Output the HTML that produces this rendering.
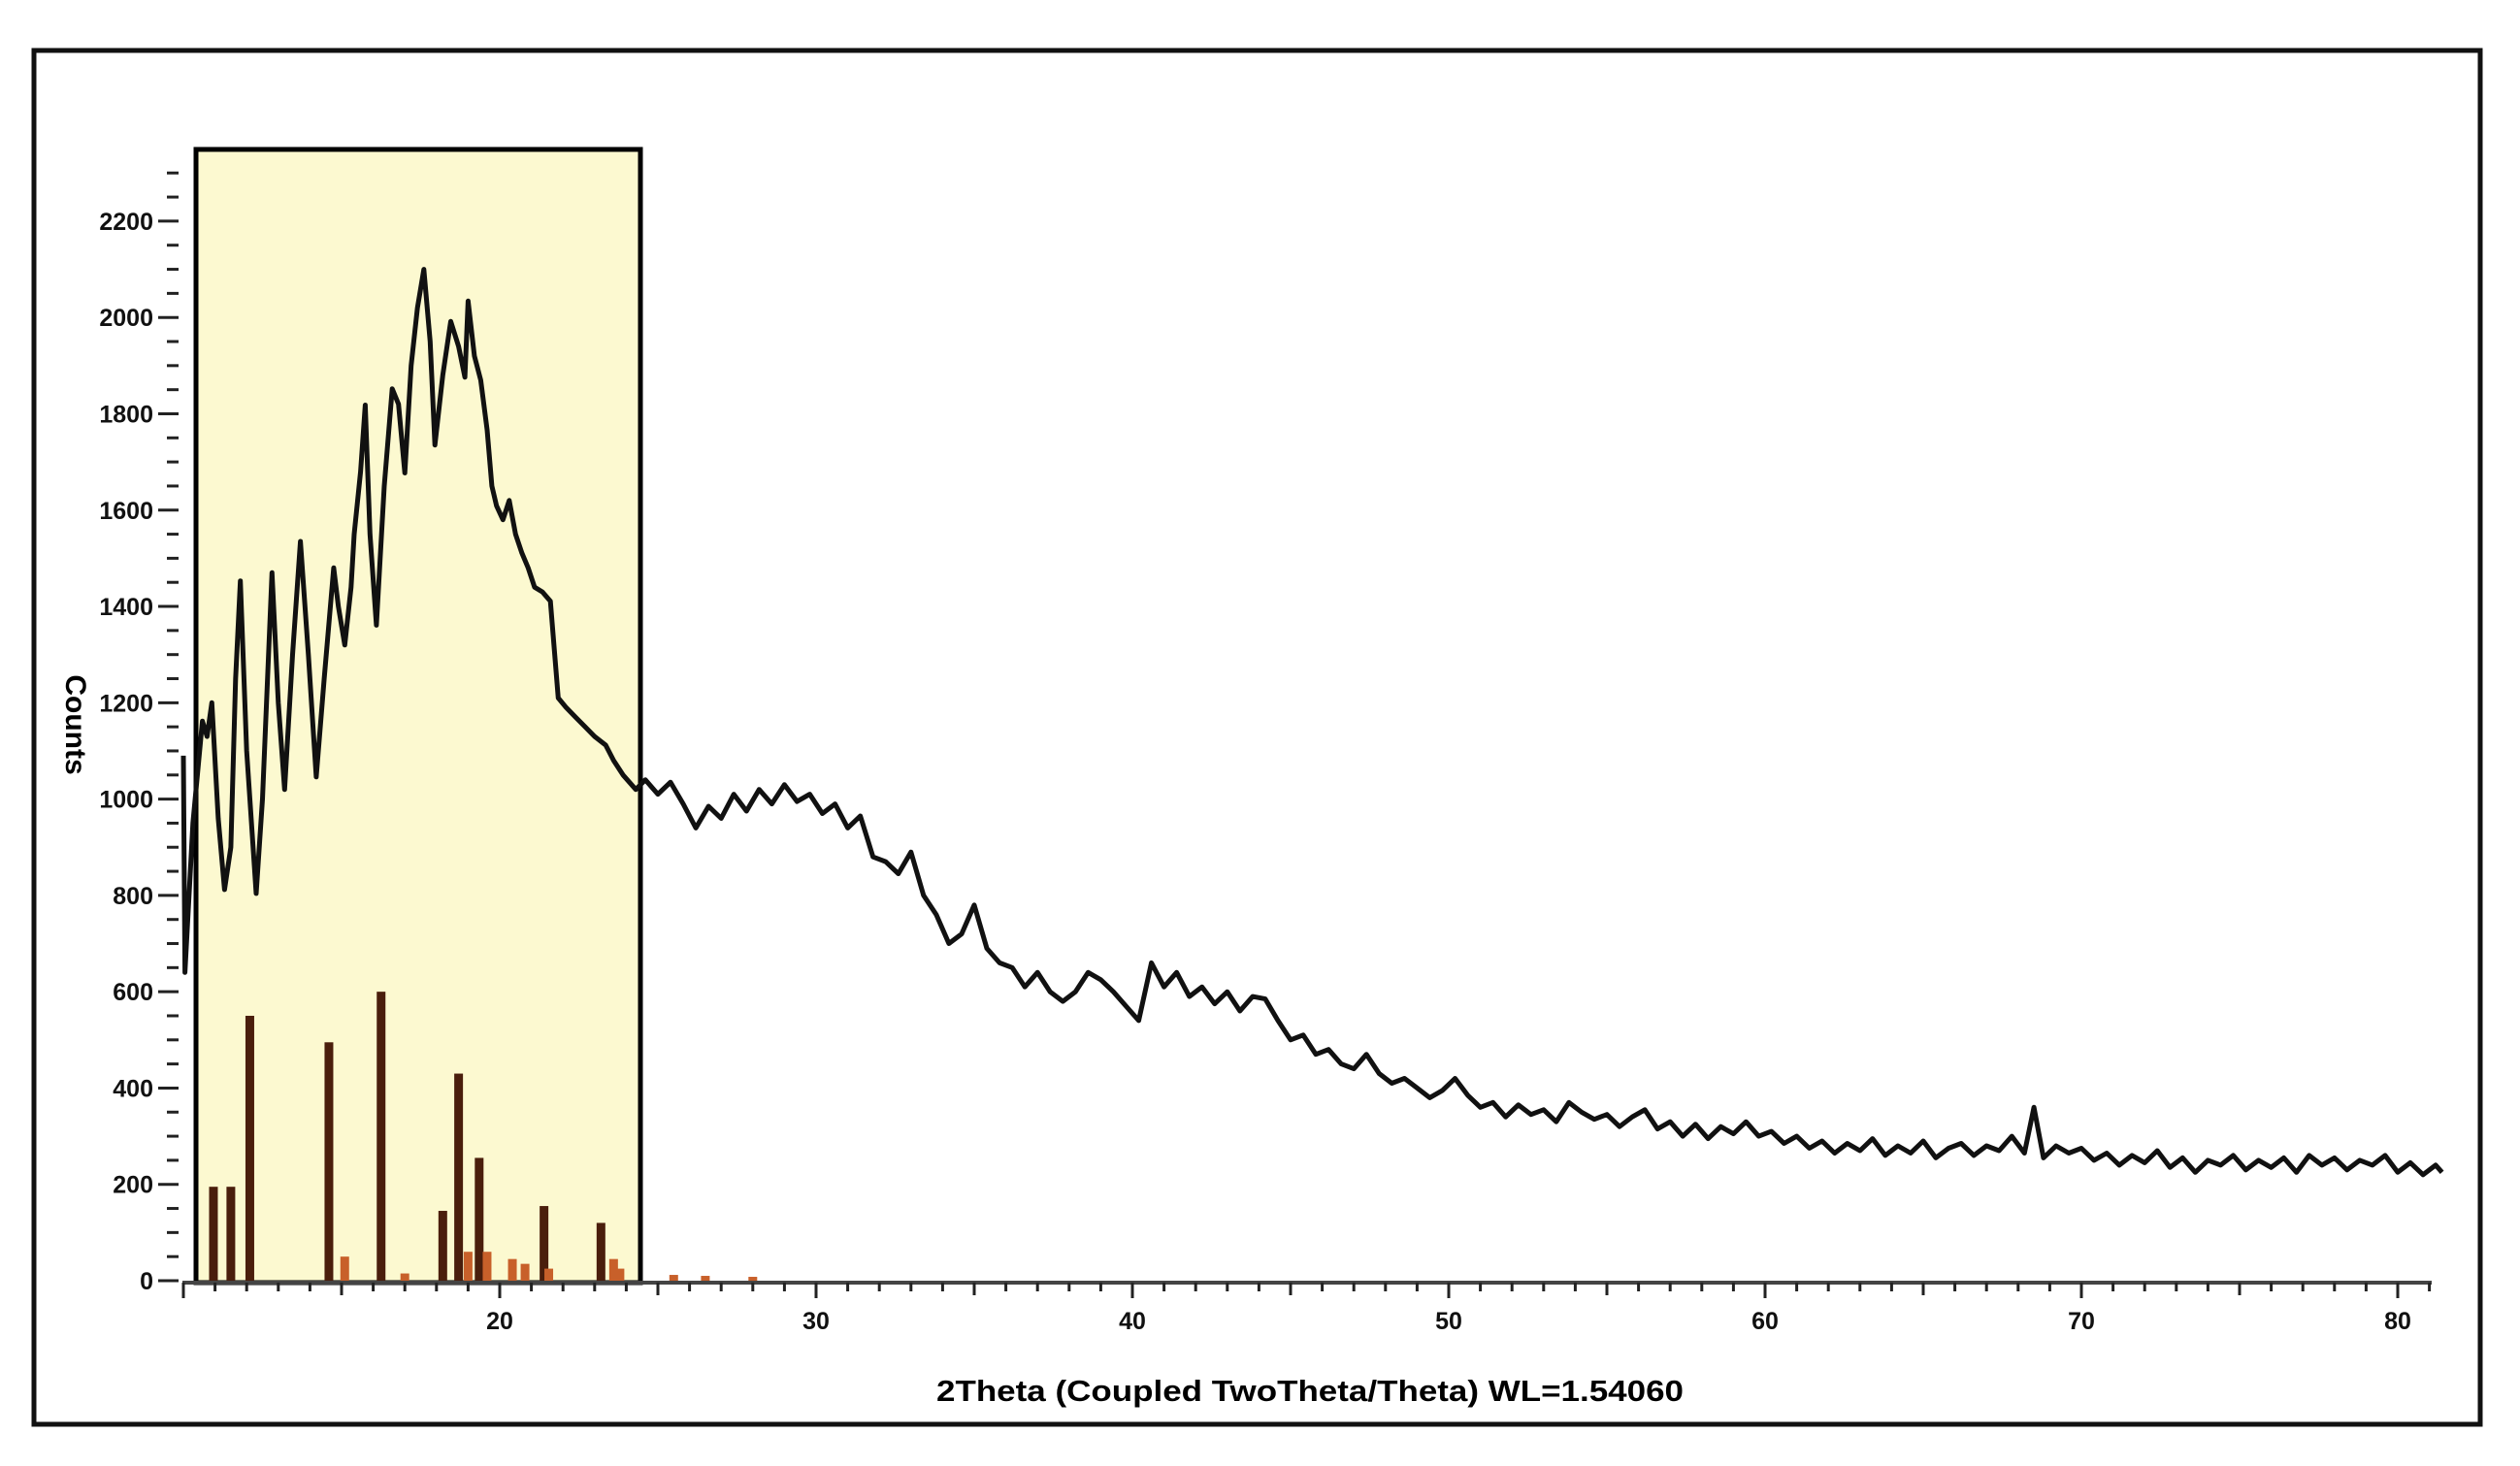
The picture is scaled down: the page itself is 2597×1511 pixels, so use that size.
<!DOCTYPE html>
<html><head><meta charset="utf-8"><style>
html,body{margin:0;padding:0;background:#fff;}
svg{display:block;font-family:"Liberation Sans",sans-serif;font-weight:bold;}
</style></head><body>
<svg id="chart" width="2597" height="1511" viewBox="0 0 2597 1511">
  <rect x="35" y="52" width="2521" height="1416" fill="none" stroke="#111" stroke-width="5"/>
  <rect x="202" y="154" width="458" height="1168" fill="#fcf9d0" stroke="#000" stroke-width="5"/>
  <g id="yaxis"></g>
  <g id="xaxis"></g>
  <g id="sticks"></g>
  <path id="trace" fill="none" stroke="#111" stroke-width="5" stroke-linejoin="round"/>
  <text x="68" y="747" font-size="30" text-anchor="middle" transform="rotate(90 68 747)">Counts</text>
  <text x="1350" y="1444" font-size="31" text-anchor="middle" textLength="770" lengthAdjust="spacingAndGlyphs">2Theta (Coupled TwoTheta/Theta) WL=1.54060</text>
</svg>
<script>
const angles = [10.0,10.05,10.3,10.6,10.75,10.9,11.1,11.3,11.5,11.65,11.8,12.0,12.3,12.5,12.8,13.0,13.2,13.45,13.7,13.95,14.2,14.45,14.75,14.9,15.1,15.3,15.4,15.6,15.75,15.9,16.1,16.35,16.6,16.8,17.0,17.2,17.4,17.6,17.8,17.95,18.2,18.45,18.7,18.9,19.0,19.2,19.4,19.6,19.75,19.9,20.1,20.3,20.5,20.7,20.9,21.1,21.35,21.6,21.85,22.1,22.4,22.7,23.0,23.35,23.6,23.9,24.3,
24.6,25.0,25.4,25.8,26.2,26.6,27.0,27.4,27.8,28.2,28.6,29.0,29.4,29.8,30.2,30.6,31.0,31.4,31.8,32.2,32.6,33.0,33.4,33.8,34.2,34.6,35.0,35.4,35.8,36.2,36.6,37.0,37.4,37.8,38.2,38.6,39.0,39.4,39.8,40.2,40.6,41.0,41.4,41.8,42.2,42.6,43.0,43.4,43.8,44.2,44.6,45.0,45.4,45.8,46.2,46.6,47.0,47.4,47.8,48.2,48.6,49.0,49.4,49.8,50.2,50.6,51.0,51.4,51.8,52.2,52.6,53.0,53.4,53.8,54.2,54.6,55.0,55.4,55.8,56.2,56.6,57.0,57.4,57.8,58.2,58.6,59.0,59.4,59.8,60.2,60.6,61.0,61.4,61.8,62.2,62.6,63.0,63.4,63.8,64.2,64.6,65.0,65.4,65.8,66.2,66.6,67.0,67.4,67.8,68.2,68.5,68.8,69.2,69.6,70.0,70.4,70.8,71.2,71.6,72.0,72.4,72.8,73.2,73.6,74.0,74.4,74.8,75.2,75.6,76.0,76.4,76.8,77.2,77.6,78.0,78.4,78.8,79.2,79.6,80.0,80.4,80.8,81.2,81.4];
const counts = [1090,640,950,1162,1130,1200,960,812,900,1250,1453,1100,804,1000,1470,1200,1020,1300,1535,1300,1046,1250,1480,1400,1320,1440,1550,1680,1818,1550,1361,1650,1852,1820,1677,1900,2020,2100,1950,1735,1880,1992,1940,1876,2034,1920,1870,1767,1650,1609,1580,1620,1550,1511,1480,1440,1430,1411,1210,1190,1170,1150,1130,1112,1080,1050,1020,
1040,1010,1035,990,940,985,960,1010,975,1020,990,1030,995,1010,970,990,940,965,880,870,845,890,800,760,700,720,780,690,660,650,610,640,600,580,600,640,625,600,570,540,660,610,640,590,610,575,600,560,590,585,540,500,510,470,480,450,440,470,430,410,420,400,380,395,420,385,360,370,340,365,345,355,330,370,350,335,345,320,340,355,315,330,300,325,295,320,305,330,300,310,285,300,275,290,265,285,270,295,260,280,265,290,255,275,285,260,280,270,300,265,360,255,280,265,275,250,265,240,260,245,270,235,255,225,250,240,260,230,250,235,255,225,260,240,255,230,250,240,260,225,245,220,240,225];
const stickAngles = [10.95,11.5,12.1,14.6,15.1,16.25,17.0,18.2,18.7,19.0,19.35,19.6,20.4,20.8,21.4,21.55,23.2,23.6,23.8,25.5,26.5,28.0];
const stickHeights = [195,195,550,495,50,600,15,145,430,60,255,60,45,35,155,25,120,45,25,12,10,8];
const yTicks = [0,200,400,600,800,1000,1200,1400,1600,1800,2000,2200];
const xTicks = [20,30,40,50,60,70,80];

const NS = "http://www.w3.org/2000/svg";
function X(v){ return 515 + (v-20)*32.6; }
function Y(v){ return 1320 - v*0.4964; }
function mk(tag, attrs, parent){ const e=document.createElementNS(NS,tag); for(const k in attrs) e.setAttribute(k,attrs[k]); parent.appendChild(e); return e; }

const ya = document.getElementById('yaxis');
for(let v=0; v<=2300; v+=50){
  const major = v%200===0;
  const t = mk('line',{x1: major?163:172, x2:184, y1:Y(v), y2:Y(v), stroke:'#222','stroke-width':3}, ya);
  
  
}
yTicks.forEach(v=>{
  const t = mk('text',{x:158,y:Y(v)+9,'font-size':25,'text-anchor':'end',fill:'#111'}, ya);
  t.textContent = v;
  
  
});

const xa = document.getElementById('xaxis');
const axl = mk('line',{x1:188,x2:2506,y1:1322,y2:1322,stroke:'#444','stroke-width':4}, xa);


for(let v=10; v<=81; v++){
  const len = v%10===0 ? 16 : (v%5===0 ? 13 : 9);
  const t = mk('line',{x1:X(v),x2:X(v),y1:1322,y2:1322+len,stroke:'#222','stroke-width':3}, xa);
  
  
}
xTicks.forEach(v=>{
  const t = mk('text',{x:X(v),y:1370,'font-size':25,'text-anchor':'middle',fill:'#111'}, xa);
  t.textContent = v;
  
  
});

const sg = document.getElementById('sticks');
stickAngles.forEach((a,i)=>{
  const h = stickHeights[i];
  const r = mk('rect',{x:X(a)-4.5,y:Y(h),width:9,height:Y(0)-Y(h),fill: h>100 ? '#4a1e0c' : '#c8602a'}, sg);
  
  
});

let d='';
angles.forEach((a,i)=>{ d += (i?'L':'M') + X(a).toFixed(1) + ' ' + Y(counts[i]).toFixed(1) + ' '; });
document.getElementById('trace').setAttribute('d', d);
</script>
</body></html>
